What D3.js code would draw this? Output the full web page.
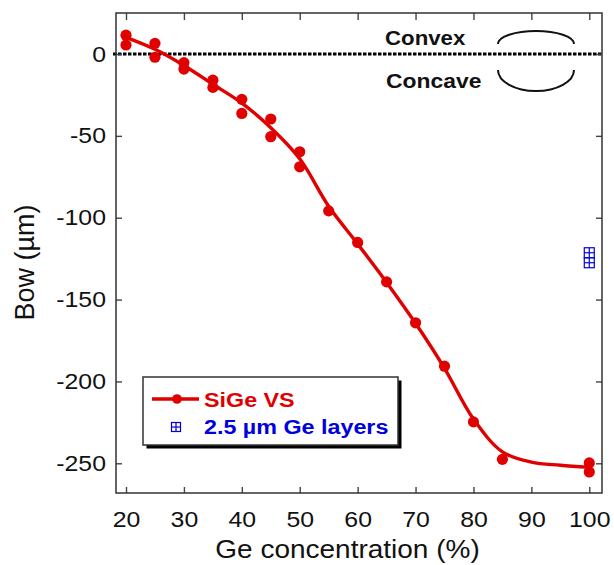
<!DOCTYPE html>
<html>
<head>
<meta charset="utf-8">
<script src="https://cdn.jsdelivr.net/npm/d3@7"></script>
<style>
  html, body { margin: 0; padding: 0; background: #fff; }
  svg { display: block; font-family: "Liberation Sans", Arial, Helvetica, sans-serif; }
</style>
</head>
<body>
<svg id="chart" width="614" height="565"></svg>
<script>
// ---- Data ----
const xTicks = [20, 30, 40, 50, 60, 70, 80, 90, 100];
const yTicks = [0, -50, -100, -150, -200, -250];

// SiGe VS measured points
const sigeX = [20, 20, 25, 25, 30, 30, 35, 35, 40, 40, 45, 45, 50, 50, 55, 60, 65, 70, 75, 80, 85, 100, 100];
const sigeY = [11.5, 5.5, 6.5, -2, -5.3, -9.2, -16, -20.4, -27.7, -36.3, -39.7, -50.5, -59.7, -68.9, -95.8, -115.1, -139.2, -164.2, -190.7, -224.7, -247.6, -249.8, -255.3];

// fitted trend line through SiGe VS
const fitX = [20, 25, 30, 35, 40, 45, 50, 55, 60, 65, 70, 75, 80, 85, 90, 95, 100];
const fitY = [10.2, 2.9, -7, -18.5, -30, -45, -64, -93, -116, -139.5, -164.5, -192, -223, -243, -249.3, -251.2, -252.5];

// 2.5 um Ge layers
const geX = [100, 100];
const geY = [-121.4, -127.5];

const seriesNames = ["SiGe VS", "2.5 \u00b5m Ge layers"];
const red = "#e00000";
const blue = "#0000dd";

// ---- Layout ----
const svg = d3.select("#chart");
const L = 116, R = 602, T = 13, B = 493;
const pxPerX = 5.791, pxPerY = 1.6372;
const x = d3.scaleLinear().domain([20 - (126 - L) / pxPerX, 20 + (R - 126) / pxPerX]).range([L, R]);
const y = d3.scaleLinear().domain([-(B - 54) / pxPerY, (54 - T) / pxPerY]).range([B, T]);
const SX = 1.13;

// zero dashed line
svg.append("line")
  .attr("x1", L - 3).attr("x2", R)
  .attr("y1", y(0)).attr("y2", y(0))
  .attr("stroke", "#000").attr("stroke-width", 3)
  .attr("stroke-dasharray", "3.5,1.5");

// axes
const tickFont = 22;
const fmt = d => String(d);
const gx = svg.append("g").attr("transform", `translate(0,${B})`)
  .call(d3.axisBottom(x).tickValues(xTicks).tickFormat(fmt).tickSize(-6).tickSizeOuter(0).tickPadding(18.4));
const gxt = svg.append("g").attr("transform", `translate(0,${T})`)
  .call(d3.axisTop(x).tickValues(xTicks).tickSize(-7).tickSizeOuter(0).tickFormat(""));
const gy = svg.append("g").attr("transform", `translate(${L},0)`)
  .call(d3.axisLeft(y).tickValues(yTicks).tickFormat(fmt).tickSize(-6).tickSizeOuter(0).tickPadding(10));
const gyr = svg.append("g").attr("transform", `translate(${R},0)`)
  .call(d3.axisRight(y).tickValues(yTicks).tickSize(-6).tickSizeOuter(0).tickFormat(""));

[gx, gxt, gy, gyr].forEach(g => {
  g.select(".domain").remove();
  g.selectAll(".tick line").attr("stroke", "#444").attr("stroke-width", 1.4);
  g.selectAll("text").attr("font-size", tickFont).attr("fill", "#111")
    .attr("font-family", "'Liberation Sans', Arial, sans-serif");
});
gx.selectAll("text").attr("transform", `scale(${SX},1)`);
gy.selectAll("text").attr("x", -10 / SX).attr("transform", `scale(${SX},1)`);

// frame
svg.append("rect").attr("x", L).attr("y", T).attr("width", R - L).attr("height", B - T)
  .attr("fill", "none").attr("stroke", "#333").attr("stroke-width", 1.5);

// axis titles
svg.append("text")
  .attr("transform", `translate(347.5,558) scale(1.12,1)`)
  .attr("text-anchor", "middle").attr("font-size", 25).attr("fill", "#111")
  .text("Ge concentration (%)");
svg.append("text")
  .attr("transform", `translate(34,262.5) rotate(-90)`)
  .attr("text-anchor", "middle").attr("font-size", 27).attr("fill", "#111")
  .text("Bow (\u00b5m)");

// fit line
const line = d3.line().x(d => x(d[0])).y(d => y(d[1])).curve(d3.curveCatmullRom.alpha(0.5));
svg.append("path")
  .datum(fitX.map((v, i) => [v, fitY[i]]))
  .attr("d", line).attr("fill", "none").attr("stroke", red).attr("stroke-width", 3.4)
  .attr("stroke-linejoin", "round");

// points
svg.append("g").selectAll("circle")
  .data(sigeX.map((v, i) => [v, sigeY[i]]))
  .join("circle")
  .attr("cx", d => x(d[0])).attr("cy", d => y(d[1])).attr("r", 5.6).attr("fill", red);

// Ge layers: boxed-cross squares
function gridSquare(g, cx, cy, s, color) {
  const h = s / 2;
  g.append("rect").attr("x", cx - h).attr("y", cy - h).attr("width", s).attr("height", s)
    .attr("fill", "none").attr("stroke", color).attr("stroke-width", 1.2);
  g.append("line").attr("x1", cx).attr("x2", cx).attr("y1", cy - h).attr("y2", cy + h)
    .attr("stroke", color).attr("stroke-width", 1.2);
  g.append("line").attr("x1", cx - h).attr("x2", cx + h).attr("y1", cy).attr("y2", cy)
    .attr("stroke", color).attr("stroke-width", 1.2);
}
const geG = svg.append("g");
geX.forEach((v, i) => gridSquare(geG, x(v), y(geY[i]), 10, blue));

// Convex / Concave annotation
svg.append("text").attr("transform", "translate(385,45) scale(1.06,1)")
  .attr("font-size", 21).attr("font-weight", "bold").attr("fill", "#111").text("Convex");
svg.append("text").attr("transform", "translate(386,88) scale(1.09,1)")
  .attr("font-size", 21).attr("font-weight", "bold").attr("fill", "#111").text("Concave");
svg.append("path").attr("d", "M498,44 A38,13 0 0 1 574,44")
  .attr("fill", "none").attr("stroke", "#111").attr("stroke-width", 2);
svg.append("path").attr("d", "M498,70 A38,21 0 0 0 574,70")
  .attr("fill", "none").attr("stroke", "#111").attr("stroke-width", 2);

// legend
const lg = svg.append("g");
lg.append("rect").attr("x", 146.5).attr("y", 380.5).attr("width", 255).attr("height", 68).attr("fill", "#000");
lg.append("rect").attr("x", 143).attr("y", 377).attr("width", 255).attr("height", 68)
  .attr("fill", "#fff").attr("stroke", "#333").attr("stroke-width", 1.5);
lg.append("line").attr("x1", 152).attr("x2", 199).attr("y1", 399).attr("y2", 399)
  .attr("stroke", red).attr("stroke-width", 3.4);
lg.append("circle").attr("cx", 177).attr("cy", 399).attr("r", 4.8).attr("fill", red);
lg.append("text").attr("transform", "translate(204,407) scale(1.11,1)")
  .attr("font-size", 21).attr("font-weight", "bold").attr("fill", red).text(seriesNames[0]);
gridSquare(lg, 176, 427, 9, blue);
lg.append("text").attr("transform", "translate(204,434) scale(1.11,1)")
  .attr("font-size", 21).attr("font-weight", "bold").attr("fill", blue).text(seriesNames[1]);
</script>
</body>
</html>
